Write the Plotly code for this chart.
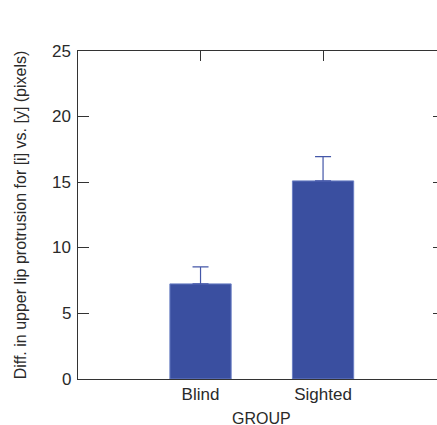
import plotly.graph_objects as go

groups = ["Blind", "Sighted"]
means = [7.25, 15.1]
errors = [1.3, 1.85]
x_pos = [1, 2]
y_ticks = [0, 5, 10, 15, 20, 25]
y_ticklabels = ["0", "5", "10", "15", "20", "25"]

bar_color = "#3A4FA0"
axis_color = "#333333"
font_family = "Liberation Sans, Arial, sans-serif"

fig = go.Figure()
fig.add_trace(go.Bar(
    x=x_pos, y=means, width=0.5,
    marker=dict(color=bar_color, line=dict(color="#6B7FC4", width=1)),
    error_y=dict(type="data", array=errors, arrayminus=[0, 0], symmetric=False,
                 color="#4457A8", thickness=1.2, width=8),
    showlegend=False,
))
# invisible trace for mirrored axes (top and right ticks)
fig.add_trace(go.Scatter(x=x_pos, y=means, xaxis="x2", yaxis="y2",
                         mode="markers", marker=dict(opacity=0), showlegend=False,
                         hoverinfo="skip"))

# upright y tick labels placed through the y axis scale
tick_annotations = [
    dict(text=lab, x=0, xref="paper", xanchor="right", xshift=-5,
         y=v, yref="y", yanchor="middle", showarrow=False, textangle=0,
         font=dict(size=17))
    for v, lab in zip(y_ticks, y_ticklabels)
]

fig.update_layout(
    width=437, height=425,
    margin=dict(l=78, r=0, t=51, b=46, autoexpand=False),
    paper_bgcolor="white", plot_bgcolor="white",
    font=dict(family=font_family, color="#2a2a2a", size=17),
    xaxis=dict(range=[0, 2.93], tickvals=x_pos, ticktext=groups,
               showline=True, linecolor=axis_color, linewidth=1,
               ticks="", showgrid=False, zeroline=False, automargin=False,
               tickfont=dict(size=17)),
    yaxis=dict(range=[0, 25], tickvals=y_ticks, showticklabels=False,
               showline=True, linecolor=axis_color, linewidth=1,
               ticks="inside", ticklen=11, tickcolor=axis_color,
               showgrid=False, zeroline=False, automargin=False,
               title=dict(text="Diff. in upper lip protrusion for [i] vs. [y] (pixels)",
                          font=dict(size=16), standoff=46)),
    xaxis2=dict(overlaying="x", side="top", range=[0, 2.93], tickvals=x_pos,
                showticklabels=False, showline=True, linecolor=axis_color,
                linewidth=1, ticks="inside", ticklen=10, tickcolor=axis_color,
                showgrid=False, zeroline=False, automargin=False),
    yaxis2=dict(overlaying="y", side="right", range=[0, 25], tickvals=y_ticks,
                showticklabels=False, showline=False,
                ticks="inside", ticklen=4, tickcolor=axis_color,
                showgrid=False, zeroline=False, automargin=False),
    annotations=tick_annotations + [
        dict(text="GROUP", x=1.5, xref="x", y=0, yref="paper",
             yshift=-29, yanchor="top", showarrow=False,
             font=dict(size=16))],
)

fig.write_html("out.html", config={"displayModeBar": False},
               post_script="document.body.style.margin='0';document.body.style.padding='0';")
